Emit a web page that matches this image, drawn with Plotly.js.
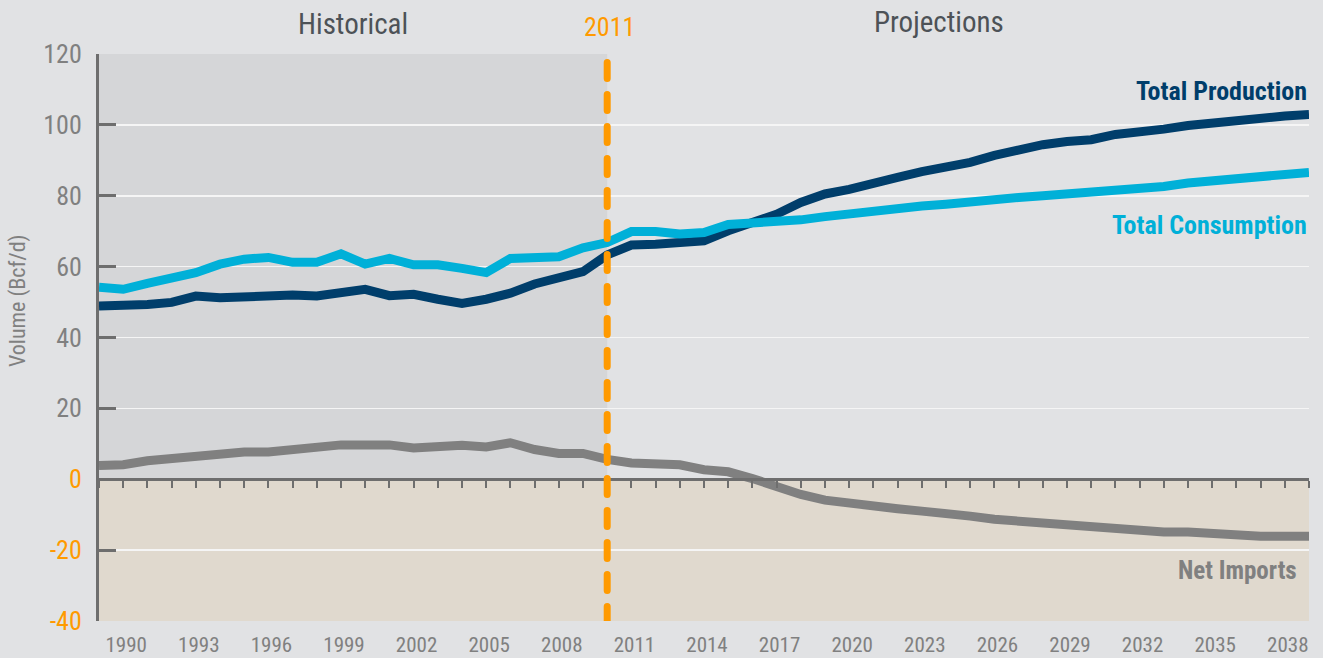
<!DOCTYPE html>
<html>
<head>
<meta charset="utf-8">
<script src="https://cdn.plot.ly/plotly-3.0.1.min.js"></script>
<style>
html,body{margin:0;padding:0;background:#e1e2e4;}
#chart{width:1323px;height:658px;}
</style>
</head>
<body>
<div id="chart"></div>
<script>
// ---- data ----
const years = [];
for (let y = 1989; y <= 2039; y++) years.push(y);

const totalProduction = [
  48.9, 48.9, 49.3, 49.9, 51.7, 51.2, 51.6, 51.6, 52.0, 51.7,
  52.6, 53.6, 51.8, 52.2, 50.8, 49.6, 50.8, 52.5, 55.1, 56.7,
  58.6, 63.3, 66.1, 66.3, 66.8, 67.3, 70.1, 72.7, 74.8, 78.1,
  80.5, 81.8, 83.2, 85.2, 86.8, 87.8, 89.4, 91.4, 93.1, 94.4,
  95.3, 95.8, 97.3, 97.8, 98.8, 99.8, 100.5, 101.2, 102.2, 102.5,
  102.9
];
const totalConsumption = [
  54.2, 53.6, 55.3, 56.9, 58.3, 60.7, 62.1, 62.6, 61.2, 61.2,
  63.6, 60.7, 62.3, 60.5, 60.5, 59.5, 58.3, 62.3, 62.8, 62.8,
  65.3, 66.8, 69.9, 69.9, 69.2, 69.6, 71.9, 72.2, 72.7, 73.2,
  74.1, 74.9, 75.8, 76.7, 77.1, 77.6, 78.4, 78.8, 79.5, 80.0,
  80.4, 80.9, 81.3, 82.0, 82.6, 83.6, 84.1, 84.6, 85.7, 86.1,
  86.6
];
const netImports = [
  3.9, 4.1, 5.2, 5.8, 6.9, 7.3, 7.7, 7.7, 8.4, 9.2,
  9.7, 9.7, 9.7, 8.8, 9.2, 9.6, 9.1, 10.3, 8.4, 7.3,
  7.3, 5.6, 4.6, 4.1, 4.1, 2.7, 2.1, 0.2, -2.2, -4.3,
  -5.9, -6.9, -7.3, -8.3, -9.0, -9.5, -10.4, -11.3, -11.8, -12.7,
  -13.3, -13.8, -14.4, -14.4, -14.9, -14.9, -15.5, -15.5, -16.1, -16.1,
  -16.1
];
const xTickVals = [1990,1993,1996,1999,2002,2005,2008,2011,2014,2017,2020,2023,2026,2029,2032,2035,2038];
const yTickVals = [-40,-20,0,20,40,60,80,100,120];
const historyEnd = 2010;

// ---- style ----
const FONT = '"Liberation Sans Narrow", "Roboto Condensed", "DejaVu Sans Condensed", "Arial Narrow", "Liberation Sans", sans-serif';
const GRAY = '#808080';
const ORANGE = '#ff9a00';
const AXIS = '#6e6e6e';
const NAVY = '#003e6b';
const CYAN = '#00b0d8';
const NETGRAY = '#808080';
const DARKTXT = '#4d5257';

const yTickText = yTickVals.map(v => v <= 0 ? '<span style="color:' + ORANGE + '">' + v + '</span>' : String(v));

const traces = [
  {x: years, y: netImports, xaxis: 'x2', yaxis: 'y', mode: 'lines', line: {color: NETGRAY, width: 9}, hoverinfo: 'skip', showlegend: false},
  {x: years, y: totalProduction, mode: 'lines', line: {color: NAVY, width: 9}, name: 'Total Production', showlegend: false},
  {x: years, y: totalConsumption, mode: 'lines', line: {color: CYAN, width: 9}, name: 'Total Consumption', showlegend: false}
];

const layout = {
  width: 1323, height: 658,
  paper_bgcolor: '#e1e2e4', plot_bgcolor: '#e1e2e4',
  margin: {l: 99, r: 14, t: 54, b: 37},
  font: {family: FONT, color: GRAY},
  showlegend: false,
  xaxis: {
    range: [1989, 2039], tickvals: xTickVals, ticks: '', showline: false, showgrid: false, zeroline: false,
    tickfont: {size: 21, color: GRAY, family: FONT}, ticklabelstandoff: 9, ticklabelshift: 3, fixedrange: true
  },
  xaxis2: {
    overlaying: 'x', anchor: 'free', position: 0.25, side: 'bottom',
    range: [1989, 2039], dtick: 1, tick0: 1989, ticks: 'outside', ticklen: 7, tickwidth: 2, tickcolor: AXIS,
    showline: true, linewidth: 3, linecolor: AXIS, showgrid: false, zeroline: false, showticklabels: false
  },
  yaxis: {
    range: [-40, 120], tickvals: yTickVals, ticktext: yTickText,
    ticks: 'inside', ticklen: 17, tickwidth: 3, tickcolor: AXIS,
    showline: true, linewidth: 3, linecolor: AXIS,
    showgrid: true, gridcolor: '#f5f5f5', gridwidth: 1.5, zeroline: false,
    tickfont: {size: 26, color: GRAY, family: FONT}, ticklabelstandoff: 9
  },
  shapes: [
    {type: 'rect', xref: 'x', yref: 'y', x0: 1989, x1: historyEnd, y0: 0, y1: 120, fillcolor: '#d5d6d8', line: {width: 0}, layer: 'below'},
    {type: 'rect', xref: 'x', yref: 'y', x0: 1989, x1: 2039, y0: -40, y1: 0, fillcolor: '#e0d9ce', line: {width: 0}, layer: 'below'},
    {type: 'line', xref: 'x', yref: 'y', x0: historyEnd, x1: historyEnd, y0: 117.6, y1: -42, line: {color: ORANGE, width: 7, dash: '16px,16px'}, layer: 'above'}
  ],
  annotations: [
    {xref: 'paper', yref: 'paper', x: -0.0669, y: 0.5644, text: 'Volume (Bcf/d)', textangle: -90, showarrow: false, xanchor: 'center', yanchor: 'middle', font: {size: 22, color: GRAY, family: FONT}},
    {xref: 'x', yref: 'paper', x: 1999.5, y: 1.0529, text: 'Historical', showarrow: false, xanchor: 'center', yanchor: 'middle', font: {size: 29, color: DARKTXT, family: FONT}},
    {xref: 'x', yref: 'paper', x: 2010.1, y: 1.0476, text: '2011', showarrow: false, xanchor: 'center', yanchor: 'middle', font: {size: 26, color: ORANGE, family: FONT}},
    {xref: 'x', yref: 'paper', x: 2023.7, y: 1.0564, text: 'Projections', showarrow: false, xanchor: 'center', yanchor: 'middle', font: {size: 29, color: DARKTXT, family: FONT}},
    {xref: 'x', yref: 'y', x: 2039, y: 109.6, text: '<b>Total Production</b>', showarrow: false, xanchor: 'right', yanchor: 'middle', font: {size: 26, color: NAVY, family: FONT}},
    {xref: 'x', yref: 'y', x: 2039, y: 71.8, text: '<b>Total Consumption</b>', showarrow: false, xanchor: 'right', yanchor: 'middle', font: {size: 26, color: CYAN, family: FONT}},
    {xref: 'x', yref: 'y', x: 2038.6, y: -25.7, text: '<b>Net Imports</b>', showarrow: false, xanchor: 'right', yanchor: 'middle', font: {size: 25, color: NETGRAY, family: FONT}}
  ]
};

Plotly.newPlot('chart', traces, layout, {staticPlot: true, displayModeBar: false}).then(function () {
  document.querySelectorAll('.shapelayer path').forEach(function (p) {
    if ((p.style.strokeDasharray || '').length) p.style.strokeLinecap = 'round';
  });
  document.querySelectorAll('.scatterlayer .js-line').forEach(function (p) {
    p.style.strokeLinejoin = 'miter';
  });
});
</script>
</body>
</html>
